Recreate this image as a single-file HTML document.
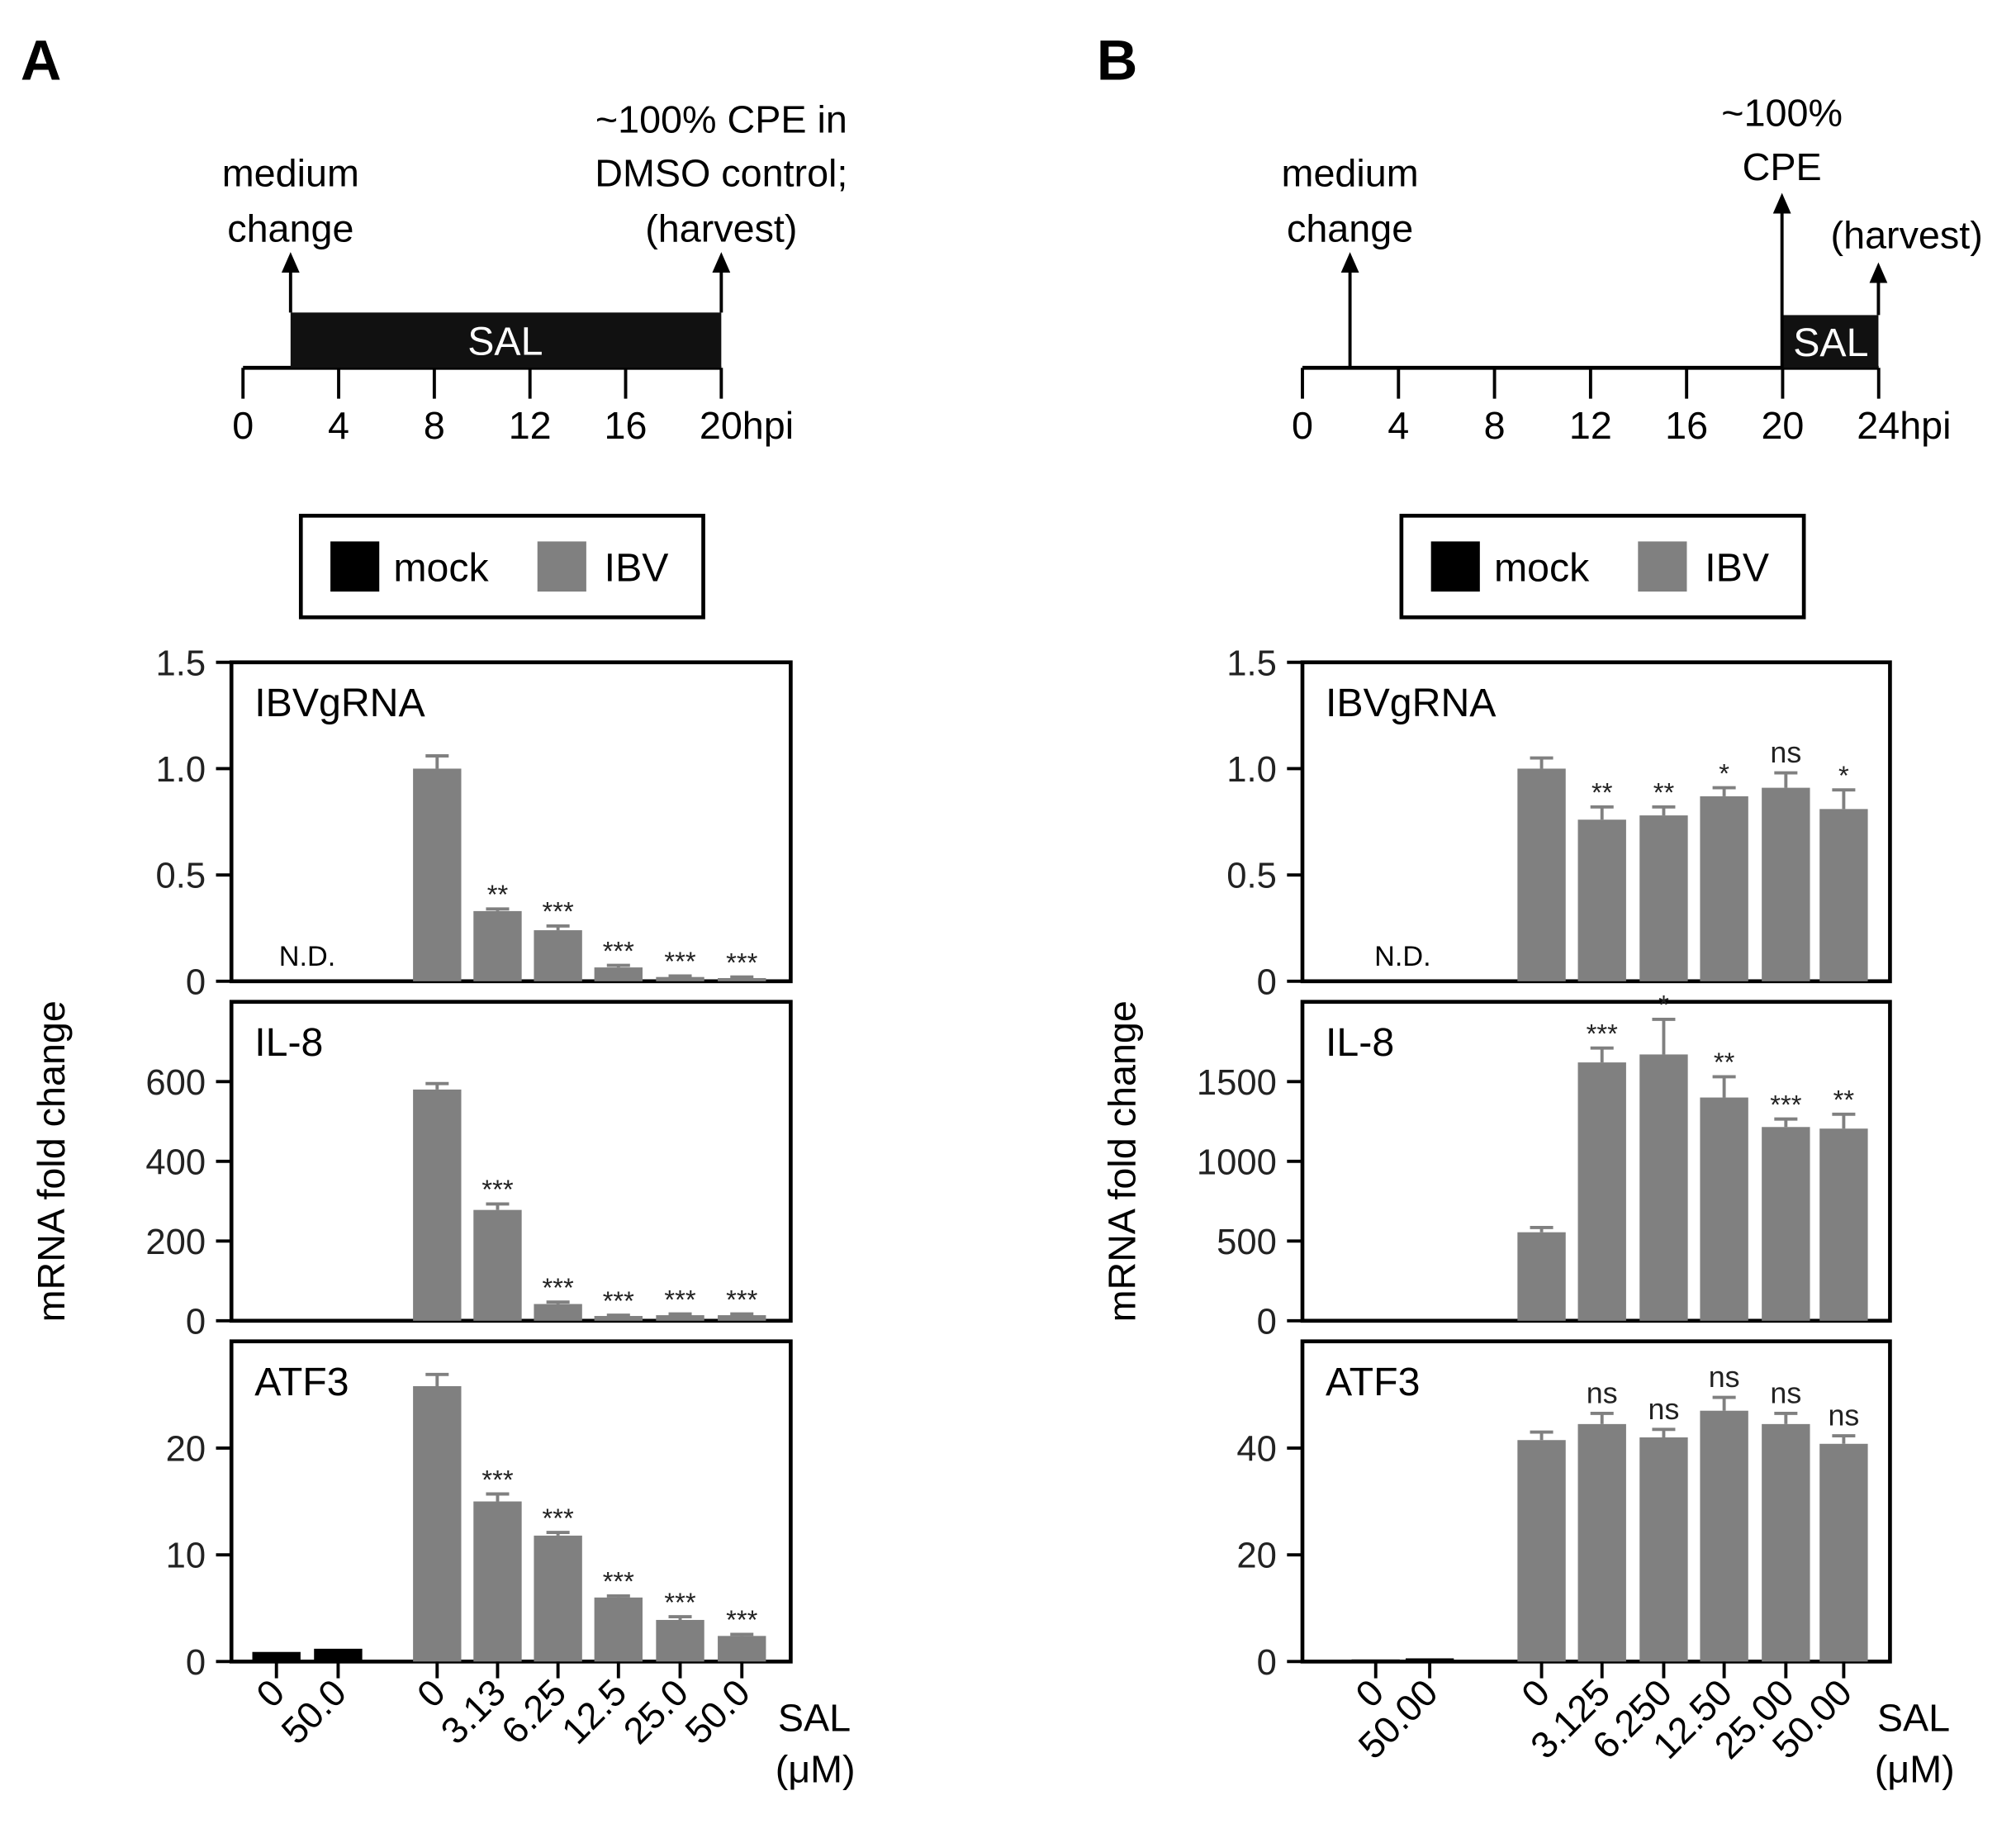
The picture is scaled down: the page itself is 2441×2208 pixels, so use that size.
<!DOCTYPE html>
<html><head><meta charset="utf-8"><style>
body{margin:0;background:#fff}
svg{display:block;font-family:"Liberation Sans",Arial,sans-serif}
</style></head><body>
<svg id="fig" xmlns="http://www.w3.org/2000/svg" width="2441" height="2208" viewBox="0 0 1568 1418.3">
<rect width="1568" height="1418.3" fill="#fff"/>
<g id="root"></g>
</svg>
<script>
// ---- data ----
const catsA = ["0","50.0","0","3.13","6.25","12.5","25.0","50.0"];
const catsB = ["0","50.00","0","3.125","6.250","12.50","25.00","50.00"];
const A_ibv_vals = [1.0,0.33,0.24,0.065,0.02,0.015];
const A_ibv_err = [0.06,0.01,0.02,0.01,0.005,0.005];
const A_ibv_sig = ["","**","***","***","***","***"];
const A_il8_vals = [580,278,42,12,14,14];
const A_il8_err = [15,15,5,2,3,3];
const A_il8_sig = ["","***","***","***","***","***"];
const A_atf_mock = [0.9,1.2];
const A_atf_vals = [25.8,15.0,11.8,6.0,3.9,2.4];
const A_atf_err = [1.1,0.7,0.3,0.15,0.3,0.15];
const A_atf_sig = ["","***","***","***","***","***"];
const B_ibv_vals = [1.0,0.76,0.78,0.87,0.91,0.81];
const B_ibv_err = [0.05,0.06,0.04,0.04,0.07,0.09];
const B_ibv_sig = ["","**","**","*","ns","*"];
const B_il8_vals = [555,1620,1670,1400,1215,1205];
const B_il8_err = [30,90,220,130,50,90];
const B_il8_sig = ["","***","*","**","***","**"];
const B_atf_mock = [0.4,0.6];
const B_atf_vals = [41.5,44.5,42,47,44.5,40.8];
const B_atf_err = [1.5,2,1.5,2.5,2,1.5];
const B_atf_sig = ["","ns","ns","ns","ns","ns"];
const ticksIbv = [0,0.5,1.0,1.5];
const ticksIbvLbl = ["0","0.5","1.0","1.5"];
const ticksAIl8 = [0,200,400,600];
const ticksAAtf = [0,10,20];
const ticksBIl8 = [0,500,1000,1500];
const ticksBAtf = [0,20,40];

const NS="http://www.w3.org/2000/svg";
const root=document.getElementById('root');
function el(tag,attrs,parent,text){const e=document.createElementNS(NS,tag);for(const k in attrs)e.setAttribute(k,attrs[k]);if(text!==undefined)e.textContent=text;(parent||root).appendChild(e);return e;}

const panelsY=[[515,763],[779,1027],[1043,1292]];
function makePanel(P,pi,name,label,max,ticks,tickLbls,vals,errs,sig,mock,nd){
  const [top,bot]=panelsY[pi];
  const y=v=>bot-(v/max)*(bot-top);
  const g=el('g',{});
  
  
  const fr=el('rect',{x:P.x0,y:top,width:P.x1-P.x0,height:bot-top,fill:'none',stroke:'#000','stroke-width':3},g);
  
  
  const t=el('text',{x:P.x0+18,y:top+42,'font-size':31},g,label);
  
  
  ticks.forEach((v,i)=>{
    el('line',{x1:P.x0-12,x2:P.x0,y1:y(v),y2:y(v),stroke:'#000','stroke-width':2.5},g);
    const tl=el('text',{x:P.x0-20,y:y(v)+10,'font-size':28,'text-anchor':'end',fill:'#222'},g,tickLbls?tickLbls[i]:String(v));
    
    
  });
  const bw=37.5;
  if(mock){mock.forEach((v,i)=>{
    const cx=P.cx[i];
    const r=el('rect',{x:cx-bw/2,y:y(v),width:bw,height:bot-y(v),fill:'#000'},g);
    
    
  });}
  if(nd){const n=el('text',{x:(P.cx[0]+P.cx[1])/2,y:bot-12,'font-size':22,'text-anchor':'middle'},g,'N.D.');
    
    }
  vals.forEach((v,i)=>{
    const cx=P.cx[i+2];
    const r=el('rect',{x:cx-bw/2,y:y(v),width:bw,height:bot-y(v),fill:'#808080'},g);
    
    
    const ye=y(v+errs[i]);
    el('line',{x1:cx,x2:cx,y1:y(v),y2:ye,stroke:'#808080','stroke-width':2.5},g);
    el('line',{x1:cx-9,x2:cx+9,y1:ye,y2:ye,stroke:'#808080','stroke-width':2.5},g);
    if(sig[i]){
      const isNs=sig[i]==='ns';
      const s=el('text',{x:cx,y:ye-(isNs?8:4),'font-size':isNs?23:21,'text-anchor':'middle',fill:'#222'},g,sig[i]);
      
      
    }
  });
}

const PA={id:'a',x0:180,x1:615,cx:[215,263,340,387,434,481,529,577]};
const PB={id:'b',x0:1013,x1:1470,cx:[1070,1112,1199,1246,1294,1341,1389,1434]};

makePanel(PA,0,'ibvgrna','IBVgRNA',1.5,ticksIbv,ticksIbvLbl,A_ibv_vals,A_ibv_err,A_ibv_sig,null,true);
makePanel(PA,1,'il8','IL-8',800,ticksAIl8,null,A_il8_vals,A_il8_err,A_il8_sig,null,false);
makePanel(PA,2,'atf3','ATF3',30,ticksAAtf,null,A_atf_vals,A_atf_err,A_atf_sig,A_atf_mock,false);
makePanel(PB,0,'ibvgrna','IBVgRNA',1.5,ticksIbv,ticksIbvLbl,B_ibv_vals,B_ibv_err,B_ibv_sig,null,true);
makePanel(PB,1,'il8','IL-8',2000,ticksBIl8,null,B_il8_vals,B_il8_err,B_il8_sig,null,false);
makePanel(PB,2,'atf3','ATF3',60,ticksBAtf,null,B_atf_vals,B_atf_err,B_atf_sig,B_atf_mock,false);

function xAxis(P,cats){
  const g=el('g',{});
  
  
  cats.forEach((c,i)=>{
    const cx=P.cx[i];
    el('line',{x1:cx,x2:cx,y1:1292,y2:1305,stroke:'#000','stroke-width':2.5},g);
    const t=el('text',{x:cx+8,y:1318,'font-size':29,'text-anchor':'end',transform:`rotate(-45 ${cx+8} 1318)`},g,c);
    
    
  });
  const s=el('text',{x:P.x1-10,y:1346,'font-size':30},g,'SAL');
  
  
  el('text',{x:P.x1-12,y:1386,'font-size':30},g,'(μM)');
  const yt=el('text',{x:0,y:0,'font-size':30,'text-anchor':'middle',transform:`translate(${P.x0-130} 903) rotate(-90)`},g,'mRNA fold change');
  
  
}
xAxis(PA,catsA);xAxis(PB,catsB);

function legend(x,id){
  const g=el('g',{});
  
  
  el('rect',{x:x,y:401,width:313,height:79,fill:'#fff',stroke:'#000','stroke-width':3},g);
  el('rect',{x:x+23,y:421,width:38,height:39,fill:'#000'},g);
  el('text',{x:x+72,y:452,'font-size':31},g,'mock');
  el('rect',{x:x+184,y:421,width:38,height:39,fill:'#808080'},g);
  el('text',{x:x+236,y:452,'font-size':31},g,'IBV');
}
legend(234,'a');legend(1090,'b');

function arrow(x,y1,y2,g){
  el('line',{x1:x,x2:x,y1:y1,y2:y2+10,stroke:'#000','stroke-width':2.5},g);
  el('path',{d:`M${x-7} ${y2+16} L${x} ${y2} L${x+7} ${y2+16} Z`,fill:'#000'},g);
}
function timeline(x0,step,n,id){
  const g=el('g',{});
  
  
  el('line',{x1:x0,x2:x0+step*n,y1:286,y2:286,stroke:'#000','stroke-width':3},g);
  for(let i=0;i<=n;i++){
    const x=x0+step*i;
    el('line',{x1:x,x2:x,y1:286,y2:310,stroke:'#000','stroke-width':2.5},g);
    el('text',{x:x,y:341,'font-size':30,'text-anchor':i===n?'start':'middle',dx:i===n?-17:0},g,String(i*4)+(i===n?'hpi':''));
  }
  return g;
}
const ga=timeline(189,74.4,5,'a');
el('rect',{x:226,y:243,width:335,height:43,fill:'#111'},ga);
el('text',{x:393,y:276,'font-size':31,'text-anchor':'middle',fill:'#fff'},ga,'SAL');
arrow(226,243,196,ga);arrow(561,243,196,ga);
el('text',{x:226,y:145,'font-size':30,'text-anchor':'middle'},ga,'medium');
el('text',{x:226,y:188,'font-size':30,'text-anchor':'middle'},ga,'change');
el('text',{x:561,y:103,'font-size':30,'text-anchor':'middle'},ga,'~100% CPE in');
el('text',{x:561,y:145,'font-size':30,'text-anchor':'middle'},ga,'DMSO control;');
el('text',{x:561,y:188,'font-size':30,'text-anchor':'middle'},ga,'(harvest)');
const gb=timeline(1013,74.7,6,'b');
el('rect',{x:1386,y:245,width:75,height:41,fill:'#111'},gb);
el('text',{x:1424,y:277,'font-size':31,'text-anchor':'middle',fill:'#fff'},gb,'SAL');
arrow(1050,286,196,gb);arrow(1386,286,150,gb);arrow(1461,245,204,gb);
el('text',{x:1050,y:145,'font-size':30,'text-anchor':'middle'},gb,'medium');
el('text',{x:1050,y:188,'font-size':30,'text-anchor':'middle'},gb,'change');
el('text',{x:1386,y:98,'font-size':30,'text-anchor':'middle'},gb,'~100%');
el('text',{x:1386,y:140,'font-size':30,'text-anchor':'middle'},gb,'CPE');
el('text',{x:1483,y:193,'font-size':30,'text-anchor':'middle'},gb,'(harvest)');

const la=el('text',{x:16,y:62,'font-size':44,'font-weight':'bold'},null,'A');


const lb=el('text',{x:853,y:62,'font-size':44,'font-weight':'bold'},null,'B');


</script>
</body></html>
